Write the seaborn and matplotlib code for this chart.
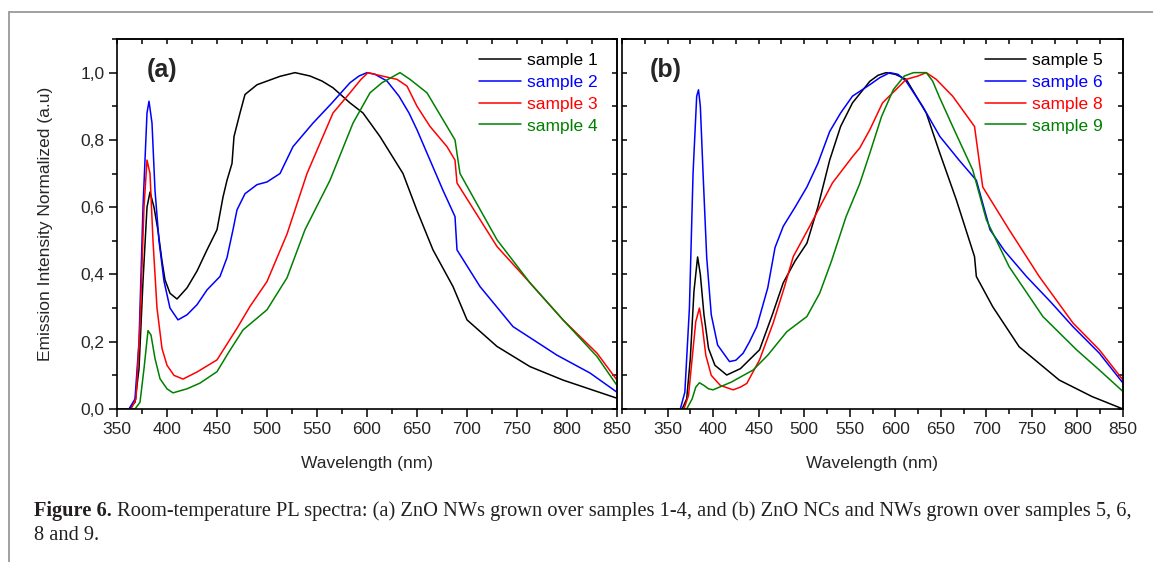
import matplotlib
matplotlib.use("Agg")
import matplotlib.pyplot as plt
import seaborn as sns
import numpy as np
from matplotlib.ticker import MultipleLocator, FuncFormatter, NullFormatter
from matplotlib.lines import Line2D

# ---------------- data ----------------
wl_s1 = [350, 362, 368, 372, 376, 380, 383, 387, 391, 395, 398, 403, 410, 420, 430, 440, 450, 456, 460, 465, 467, 473, 478,
         490, 513, 528, 543, 555, 566, 583, 596, 613, 636, 650, 666, 686, 700, 730, 763, 796, 830, 850]
int_s1 = [0, 0, 0.02, 0.12, 0.38, 0.6, 0.645, 0.6, 0.53, 0.44, 0.384, 0.344, 0.327, 0.36, 0.41, 0.473, 0.533, 0.63, 0.68, 0.73,
          0.81, 0.88, 0.935, 0.964, 0.989, 1.0, 0.99, 0.975, 0.955, 0.91, 0.88, 0.81, 0.70, 0.59, 0.473, 0.364, 0.265, 0.186,
          0.126, 0.086, 0.052, 0.032]

wl_s2 = [350, 362, 368, 372, 376, 380, 382, 385, 388, 392, 397, 403, 411, 420, 430, 440, 453, 460, 466, 470, 478, 490, 500,
         513, 526, 546, 565, 583, 592, 600, 608, 620, 632, 642, 650, 676, 688, 690, 713, 746, 790, 823, 850]
int_s2 = [0, 0, 0.03, 0.2, 0.6, 0.88, 0.915, 0.85, 0.65, 0.5, 0.38, 0.3, 0.265, 0.28, 0.31, 0.354, 0.394, 0.45, 0.533, 0.592,
          0.64, 0.667, 0.675, 0.70, 0.78, 0.85, 0.91, 0.97, 0.99, 1.0, 0.995, 0.975, 0.93, 0.88, 0.83, 0.65, 0.572, 0.473,
          0.364, 0.245, 0.16, 0.107, 0.05]

wl_s3 = [350, 364, 369, 373, 377, 380, 383, 386, 390, 395, 400, 407, 416, 430, 450, 470, 483, 500, 520, 540, 566, 583, 594,
         601, 615, 630, 640, 650, 663, 680, 688, 690, 730, 763, 796, 830, 850]
int_s3 = [0, 0, 0.03, 0.25, 0.6, 0.74, 0.7, 0.5, 0.3, 0.18, 0.13, 0.1, 0.089, 0.11, 0.146, 0.24, 0.305, 0.379, 0.52, 0.70,
          0.88, 0.94, 0.98, 1.0, 0.99, 0.98, 0.96, 0.90, 0.84, 0.78, 0.74, 0.672, 0.483, 0.375, 0.265, 0.166, 0.086]

wl_s4 = [350, 368, 373, 377, 381, 384, 388, 393, 400, 406, 420, 433, 450, 462, 476, 500, 520, 538, 563, 586, 603, 615, 633,
         643, 660, 676, 688, 693, 730, 763, 796, 830, 850]
int_s4 = [0, 0, 0.02, 0.12, 0.233, 0.22, 0.15, 0.09, 0.06, 0.048, 0.06, 0.077, 0.111, 0.17, 0.235, 0.295, 0.39, 0.533, 0.68,
          0.85, 0.94, 0.97, 1.0, 0.98, 0.94, 0.86, 0.80, 0.70, 0.503, 0.375, 0.265, 0.156, 0.07]

wl_s5 = [350, 366, 371, 375, 379, 383, 386, 390, 395, 402, 415, 430, 451, 465, 477, 490, 503, 515, 528, 540, 553, 572, 581,
         590, 600, 612, 634, 649, 667, 687, 689, 707, 736, 780, 816, 850]
int_s5 = [0, 0, 0.03, 0.15, 0.35, 0.452, 0.4, 0.28, 0.18, 0.13, 0.101, 0.12, 0.176, 0.28, 0.375, 0.44, 0.493, 0.6, 0.74,
          0.84, 0.91, 0.974, 0.992, 1.0, 0.995, 0.98, 0.88, 0.76, 0.622, 0.453, 0.394, 0.304, 0.185, 0.086, 0.037, 0.0]

wl_s6 = [350, 364, 369, 374, 378, 382, 384, 386, 389, 393, 398, 405, 418, 425, 433, 440, 448, 460, 468, 477, 490, 503, 515,
         528, 540, 553, 572, 583, 594, 603, 612, 630, 649, 670, 689, 704, 720, 744, 770, 795, 824, 850]
int_s6 = [0, 0, 0.05, 0.3, 0.7, 0.93, 0.949, 0.9, 0.7, 0.45, 0.28, 0.19, 0.141, 0.145, 0.166, 0.2, 0.245, 0.36, 0.48, 0.543,
          0.6, 0.66, 0.73, 0.825, 0.88, 0.93, 0.964, 0.985, 1.0, 0.995, 0.974, 0.9, 0.81, 0.74, 0.68, 0.533, 0.47, 0.394,
          0.32, 0.245, 0.166, 0.077]

wl_s8 = [350, 368, 373, 377, 381, 385, 388, 392, 398, 408, 422, 430, 437, 451, 466, 478, 488, 506, 531, 553, 561, 572, 586,
         612, 625, 634, 645, 663, 687, 696, 725, 758, 795, 824, 850]
int_s8 = [0, 0, 0.04, 0.15, 0.26, 0.30, 0.25, 0.16, 0.1, 0.07, 0.057, 0.065, 0.076, 0.146, 0.256, 0.36, 0.453, 0.543, 0.672,
          0.75, 0.776, 0.83, 0.91, 0.98, 0.99, 1.0, 0.98, 0.93, 0.84, 0.66, 0.533, 0.394, 0.256, 0.176, 0.086]

wl_s9 = [350, 371, 377, 381, 385, 390, 395, 400, 420, 444, 460, 481, 503, 517, 530, 546, 561, 572, 585, 598, 610, 620, 634,
         641, 648, 663, 685, 700, 725, 762, 799, 824, 850]
int_s9 = [0, 0, 0.03, 0.065, 0.078, 0.07, 0.06, 0.057, 0.08, 0.116, 0.16, 0.23, 0.275, 0.344, 0.44, 0.572, 0.67, 0.76, 0.87,
          0.95, 0.99, 1.0, 1.0, 0.975, 0.93, 0.84, 0.711, 0.5625, 0.423, 0.275, 0.176, 0.116, 0.052]

labels_a = ["sample 1", "sample 2", "sample 3", "sample 4"]
labels_b = ["sample 5", "sample 6", "sample 8", "sample 9"]
colors = ["#000000", "#0000ff", "#ff0000", "#008000"]

x_label = "Wavelength (nm)"
y_label = "Emission Intensity Normalized (a.u)"
caption_bold = "Figure 6."
caption_line1 = " Room-temperature PL spectra: (a) ZnO NWs grown over samples 1-4, and (b) ZnO NCs and NWs grown over samples 5, 6,"
caption_line2 = "8 and 9."

# ---------------- style ----------------
sns.set_theme(style="ticks")
plt.rcParams["font.family"] = ["Liberation Sans", "DejaVu Sans"]
plt.rcParams["axes.linewidth"] = 1.2

W, H = 1153, 562
fig = plt.figure(figsize=(W / 100, H / 100), dpi=100)
fig.patch.set_facecolor("white")

def fx(px):
    return px / W

def fy(py):
    return 1 - py / H

ax_a = fig.add_axes([fx(117), fy(409), fx(617) - fx(117), fy(39) - fy(409)])
ax_b = fig.add_axes([fx(622), fy(409), fx(1123) - fx(622), fy(39) - fy(409)])

comma = FuncFormatter(lambda v, p: f"{v:.1f}".replace(".", ","))
FS = 12.5

def draw(ax, wls, ints, labels, xmin, show_ylabels):
    for wl, it, lab, c in zip(wls, ints, labels, colors):
        sns.lineplot(x=wl, y=it, ax=ax, color=c, linewidth=1.1, label=lab)
    ax.set_xlim(xmin, 850)
    ax.set_ylim(0, 1.1)
    ax.xaxis.set_major_locator(MultipleLocator(50))
    ax.xaxis.set_minor_locator(MultipleLocator(25))
    ax.yaxis.set_major_locator(MultipleLocator(0.2))
    ax.yaxis.set_minor_locator(MultipleLocator(0.1))
    ax.set_xticks(np.arange(350, 851, 50))
    ax.tick_params(axis="x", which="major", direction="out", length=6, width=1.1, labelsize=FS, pad=3, color="black")
    ax.tick_params(axis="x", which="minor", direction="out", length=3.5, width=1.1, color="black")
    if show_ylabels:
        ax.yaxis.set_major_formatter(comma)
        ax.tick_params(axis="y", which="major", direction="out", length=6, width=1.1, labelsize=FS, pad=3, color="black")
        ax.tick_params(axis="y", which="minor", direction="out", length=3.5, width=1.1, color="black")
        ax.set_ylabel(y_label, fontsize=FS, labelpad=20)
    else:
        ax.yaxis.set_major_formatter(NullFormatter())
        ax.tick_params(axis="y", which="both", direction="in", length=3.5, width=1.1, color="black")
        ax.set_ylabel("")
    ax.set_xlabel(x_label, fontsize=FS, labelpad=14)
    # top / right inward ticks
    sx = ax.secondary_xaxis("top")
    sx.xaxis.set_major_locator(MultipleLocator(25))
    sx.tick_params(axis="x", which="both", direction="in", length=3.5, width=1.1, labeltop=False, color="black")
    sx.set_xticklabels([])
    sy = ax.secondary_yaxis("right")
    sy.yaxis.set_major_locator(MultipleLocator(0.1))
    sy.tick_params(axis="y", which="both", direction="in", length=3.5, width=1.1, labelright=False, color="black")
    sy.set_yticklabels([])
    for s in ax.spines.values():
        s.set_color("black")
        s.set_linewidth(1.2)
    leg = ax.legend(loc="upper left", bbox_to_anchor=(0.703, 0.99), frameon=False, fontsize=FS,
                    handlelength=2.4, handletextpad=0.35, labelspacing=0.38, borderaxespad=0.2)
    for t, c in zip(leg.get_texts(), colors):
        t.set_color(c)
    for h in leg.get_lines():
        h.set_linewidth(1.1)

draw(ax_a, [wl_s1, wl_s2, wl_s3, wl_s4], [int_s1, int_s2, int_s3, int_s4], labels_a, 350, True)
draw(ax_b, [wl_s5, wl_s6, wl_s8, wl_s9], [int_s5, int_s6, int_s8, int_s9], labels_b, 300, False)

ax_a.text(0.06, 0.915, "(a)", transform=ax_a.transAxes, fontsize=18, fontweight="bold", va="center", ha="left")
ax_b.text(0.056, 0.915, "(b)", transform=ax_b.transAxes, fontsize=18, fontweight="bold", va="center", ha="left")

# page frame lines
fig.add_artist(Line2D([fx(9), 1.0], [fy(12), fy(12)], color="#9a9a9a", linewidth=1.3))
fig.add_artist(Line2D([fx(9), fx(9)], [fy(12), 0.0], color="#9a9a9a", linewidth=1.3))

# caption
cap_fs = 14.7
serif = ["Liberation Serif", "DejaVu Serif"]
cap_color = "#231f20"
tb = fig.text(fx(34), fy(511), caption_bold, fontsize=cap_fs, fontweight="bold", family=serif, va="center", ha="left",
              color=cap_color)
r = fig.canvas.get_renderer()
bb = tb.get_window_extent(renderer=r)
fig.text(bb.x1 / W, fy(511), caption_line1, fontsize=cap_fs, family=serif, va="center", ha="left", color=cap_color)
fig.text(fx(34), fy(535), caption_line2, fontsize=cap_fs, family=serif, va="center", ha="left", color=cap_color)

fig.savefig("out.png", dpi=100, facecolor="white")
